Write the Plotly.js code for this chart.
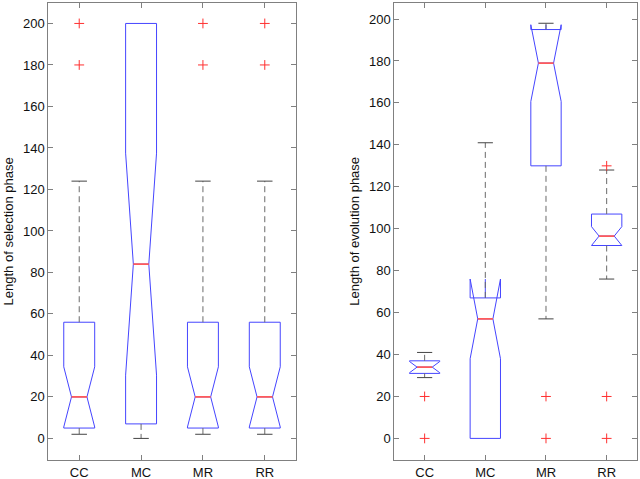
<!DOCTYPE html>
<html>
<head>
<meta charset="utf-8">
<script src="https://cdn.plot.ly/plotly-3.0.1.min.js"></script>
<style>html,body{margin:0;padding:0;background:#fff;}#chart{width:640px;height:479px;}</style>
</head>
<body>
<div id="chart"></div>
<script>
var categories = ['CC', 'MC', 'MR', 'RR'];

// Left: Length of selection phase
var selQ1 = [5, 7, 5, 5];
var selMedian = [20, 84, 20, 20];
var selQ3 = [56, 200, 56, 56];
var selNotch = [14.5, 53.5, 14.5, 14.5];
var selLowWhisker = [2, 0, 2, 2];
var selHighWhisker = [124, 200, 124, 124];
var selOutliers = [[180, 200], [], [180, 200], [180, 200]];

// Right: Length of evolution phase
var evoQ1 = [31, 0, 130, 92];
var evoMedian = [34, 57, 179, 96.5];
var evoQ3 = [37, 67, 195, 107];
var evoNotch = [2.7, 19, 18.3, 4.5];
var evoLowWhisker = [29, 0, 57, 76];
var evoHighWhisker = [41, 141, 198, 128];
var evoOutliers = [[0, 20], [], [0, 20], [0, 20, 130]];

var positions = categories.map(function (c, i) { return i + 1; });
var BOXW = 0.5, HALF_IN = 0.125;

function build(xa, ya, q1, med, q3, notch, lo, hi, outl) {
  var traces = [];
  traces.push({
    type: 'box', xaxis: xa, yaxis: ya, x: positions,
    q1: q1, median: med, q3: q3, lowerfence: q1, upperfence: q3,
    notchspan: notch, notched: true, notchwidth: 0.25,
    width: BOXW, whiskerwidth: 0, boxpoints: false,
    line: {color: '#4545ff', width: 1}, fillcolor: 'rgba(0,0,0,0)',
    showlegend: false, hoverinfo: 'skip'
  });
  var wx = [], wy = [], cx = [], cy = [];
  positions.forEach(function (p, i) {
    if (hi[i] > q3[i]) {
      wx.push(p, p, null); wy.push(q3[i], hi[i], null);
      cx.push(p - HALF_IN, p + HALF_IN, null); cy.push(hi[i], hi[i], null);
    }
    if (lo[i] < q1[i]) {
      wx.push(p, p, null); wy.push(q1[i], lo[i], null);
      cx.push(p - HALF_IN, p + HALF_IN, null); cy.push(lo[i], lo[i], null);
    }
  });
  traces.push({type: 'scatter', mode: 'lines', xaxis: xa, yaxis: ya, x: wx, y: wy,
    line: {color: '#6a6a6a', width: 1, dash: '6px,4px'}, showlegend: false, hoverinfo: 'skip'});
  traces.push({type: 'scatter', mode: 'lines', xaxis: xa, yaxis: ya, x: cx, y: cy,
    line: {color: '#444444', width: 1}, showlegend: false, hoverinfo: 'skip'});
  var mx = [], my = [];
  positions.forEach(function (p, i) {
    mx.push(p - HALF_IN, p + HALF_IN, null); my.push(med[i], med[i], null);
  });
  traces.push({type: 'scatter', mode: 'lines', xaxis: xa, yaxis: ya, x: mx, y: my,
    line: {color: '#ff5a5a', width: 1.8}, showlegend: false, hoverinfo: 'skip'});
  var ox = [], oy = [];
  positions.forEach(function (p, i) {
    outl[i].forEach(function (v) { ox.push(p); oy.push(v); });
  });
  traces.push({type: 'scatter', mode: 'markers', xaxis: xa, yaxis: ya, x: ox, y: oy,
    marker: {symbol: 'cross-thin', size: 7, line: {color: '#ff3030', width: 1}, color: '#ff3030'},
    showlegend: false, hoverinfo: 'skip'});
  return traces;
}

var data = build('x', 'y', selQ1, selMedian, selQ3, selNotch, selLowWhisker, selHighWhisker, selOutliers)
  .concat(build('x2', 'y2', evoQ1, evoMedian, evoQ3, evoNotch, evoLowWhisker, evoHighWhisker, evoOutliers));

var fontFam = 'Liberation Sans, Arial, sans-serif';
function xax(dom, anchor) {
  return {domain: dom, anchor: anchor, range: [0.5, 4.5], tickvals: positions, ticktext: categories,
    showgrid: false, zeroline: false, showline: true, linecolor: '#808080', linewidth: 1,
    mirror: 'allticks', ticks: 'inside', ticklen: 5, tickcolor: '#808080',
    tickfont: {family: fontFam, size: 13, color: '#111'}, fixedrange: true};
}
function yax(dom, anchor, rng, title) {
  return {domain: dom, anchor: anchor, range: rng, dtick: 20, tick0: 0,
    showgrid: false, zeroline: false, showline: true, linecolor: '#808080', linewidth: 1,
    mirror: 'allticks', ticks: 'inside', ticklen: 5, tickcolor: '#808080',
    tickfont: {family: fontFam, size: 13, color: '#111'},
    title: {text: title, font: {family: fontFam, size: 13, color: '#111'}, standoff: 6},
    fixedrange: true};
}
var ydom = [19 / 479, (479 - 2.7) / 479];
var layout = {
  width: 640, height: 479,
  margin: {l: 0, r: 0, t: 0, b: 0},
  paper_bgcolor: '#ffffff', plot_bgcolor: '#ffffff',
  showlegend: false,
  xaxis: xax([48.3 / 640, 295.7 / 640], 'y'),
  yaxis: yax(ydom, 'x', [-10.4, 210], 'Length of selection phase'),
  xaxis2: xax([394.3 / 640, 637 / 640], 'y2'),
  yaxis2: yax(ydom, 'x2', [-10.3, 207.8], 'Length of evolution phase')
};
Plotly.newPlot('chart', data, layout, {staticPlot: true, displayModeBar: false});
</script>
</body>
</html>
